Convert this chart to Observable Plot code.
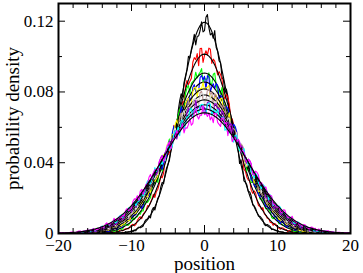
<!DOCTYPE html>
<html><head><meta charset="utf-8">
<script src="https://cdn.jsdelivr.net/npm/d3@7"></script>
<script src="https://cdn.jsdelivr.net/npm/@observablehq/plot@0.6"></script>
<style>html,body{margin:0;padding:0;background:#fff} svg{display:block}</style>
</head><body><div id="chart"></div>
<script>
// ---- data ----
const xDomain = [-20, 20];
const yDomain = [0, 0.13];
const xMajorTicks = [-20, -10, 0, 10, 20];
const xMinorTicks = [-18, -16, -14, -12, -8, -6, -4, -2, 2, 4, 6, 8, 12, 14, 16, 18];
const yMajorTicks = [0, 0.04, 0.08, 0.12];
const yMinorTicks = [0.02, 0.06, 0.10];
const yTickLabels = ["0", "0.04", "0.08", "0.12"];
const seriesNames = ["s0", "s1", "s2", "s3", "s4", "s5", "s6", "s7", "s8", "s9"];
const seriesColors = ["#000000", "#ff0000", "#00ff00", "#0000ff", "#ffff00", "#bc8f8f", "#dcdcdc", "#9400d3", "#00ffff", "#ff00ff"];
// peak density of each fitted (zero-centred) distribution
const peakDensity = [0.1194, 0.1014, 0.0907, 0.0856, 0.0817, 0.0783, 0.0755, 0.0727, 0.0704, 0.0682];
// histogram bin width and hand-estimated relative fluctuations of the histogram bars
const binWidth = 0.2;
const fluctuation = [0.3,-0.8,0.9,-0.2,0.6,-1.0,0.1,0.7,-0.5,0.95,-0.3,-0.7,0.4,0.8,-0.9,0.2,-0.4,1.0,-0.6,0.5,-0.1,0.85,-0.95,0.35,-0.25,0.65,-0.55,0.15,0.75,-0.85,0.45,-0.05,0.9,-0.65,0.25,-0.9,0.55,0.05,-0.45,0.8,-0.75,0.6,-0.15,0.95,-0.35,0.1,-0.6,0.7,-1.0,0.4,-0.2,0.5,-0.8,0.3,0.85,-0.5,0.0,-0.7,0.65,-0.3,0.2];

// ---- build tables ----
const nBins = Math.round((xDomain[1] - xDomain[0]) / binWidth);
const hist = [], fits = [];
seriesNames.forEach((name, i) => {
  const p0 = peakDensity[i];
  const s2 = 1 / (2 * Math.PI * p0 * p0);
  for (let j = 0; j <= nBins; j++) {
    const x = xDomain[0] + j * binWidth;
    const p = p0 * Math.exp(-x * x / (2 * s2));
    const f = fluctuation[(j * 7 + i * 13) % fluctuation.length];
    hist.push({series: name, color: seriesColors[i], x, y: Math.max(0, p + f * 0.016 * Math.sqrt(p))});
    fits.push({series: name, x, y: p});
  }
});

const W = 363, H = 273, mL = 58, mR = 13, mT = 3, mB = 40;
const pw = W - mL - mR, ph = H - mT - mB;

const curveMarks = seriesNames.flatMap((name) => [
  Plot.line(hist.filter(d => d.series === name), {x: "x", y: "y", stroke: "color", strokeWidth: 1.1, clip: true}),
  Plot.line(fits.filter(d => d.series === name), {x: "x", y: "y", stroke: "#000", strokeWidth: 1.1, clip: true})
]);

const chart = Plot.plot({
  width: W, height: H,
  marginLeft: mL, marginRight: mR, marginTop: mT, marginBottom: mB,
  x: {domain: xDomain},
  y: {domain: yDomain},
  color: {type: "identity"},
  style: {fontFamily: "'Liberation Serif', serif", fontSize: "17px", background: "#fff", color: "#000"},
  marks: [
    ...curveMarks,
    // inward ticks on all four sides
    Plot.tickX(xMinorTicks, {x: d => d, insetTop: ph - 5, stroke: "#000", strokeWidth: 1}),
    Plot.tickX(xMinorTicks, {x: d => d, insetBottom: ph - 5, stroke: "#000", strokeWidth: 1}),
    Plot.tickX(xMajorTicks, {x: d => d, insetTop: ph - 8, stroke: "#000", strokeWidth: 1}),
    Plot.tickX(xMajorTicks, {x: d => d, insetBottom: ph - 8, stroke: "#000", strokeWidth: 1}),
    Plot.tickY(yMinorTicks, {y: d => d, insetRight: pw - 4, stroke: "#000", strokeWidth: 1}),
    Plot.tickY(yMinorTicks, {y: d => d, insetLeft: pw - 4, stroke: "#000", strokeWidth: 1}),
    Plot.tickY(yMajorTicks, {y: d => d, insetRight: pw - 7, stroke: "#000", strokeWidth: 1}),
    Plot.tickY(yMajorTicks, {y: d => d, insetLeft: pw - 7, stroke: "#000", strokeWidth: 1}),
    Plot.frame({stroke: "#000", strokeWidth: 2}),
    Plot.axisX(xMajorTicks, {tickSize: 0, tickPadding: 5, fontSize: 17, label: null}),
    Plot.axisY(yMajorTicks, {tickSize: 0, tickPadding: 5, fontSize: 17, label: null,
      tickFormat: d => yTickLabels[yMajorTicks.indexOf(d)]}),
    Plot.text(["position"], {frameAnchor: "bottom", dy: 30, lineAnchor: "middle", fontSize: 19, text: d => d}),
    Plot.text(["probability density"], {frameAnchor: "left", dx: -46, rotate: -90, textAnchor: "middle", lineAnchor: "middle", fontSize: 19, text: d => d})
  ]
});
document.getElementById("chart").appendChild(chart);
</script>
</body></html>
